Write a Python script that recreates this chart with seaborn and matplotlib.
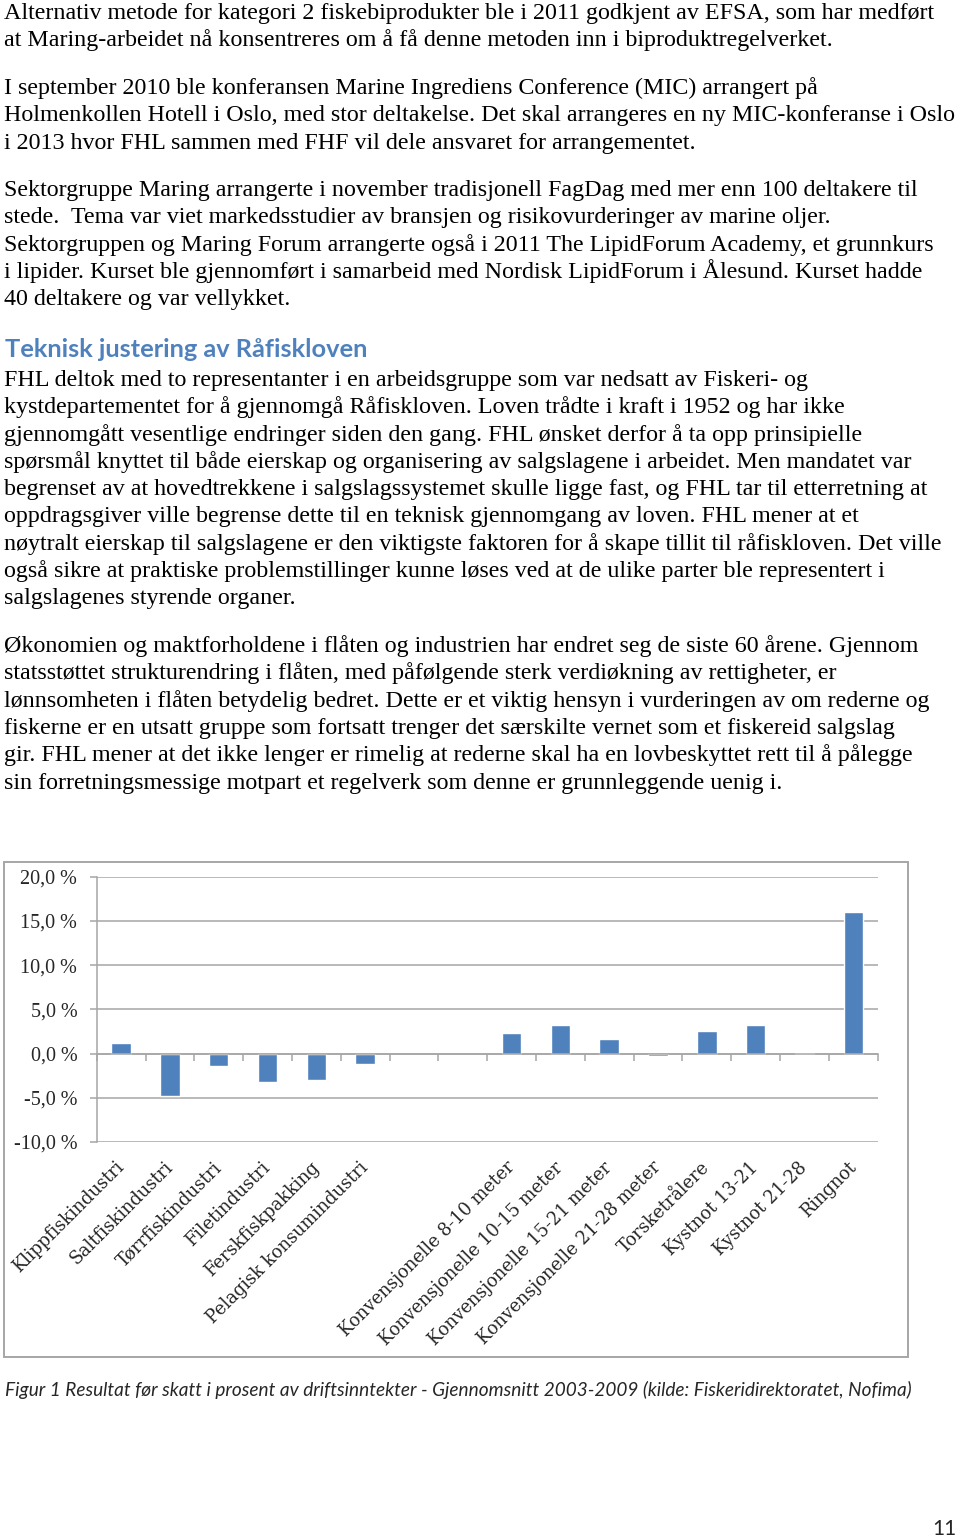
import matplotlib
matplotlib.use('Agg')
import pandas as pd
import seaborn as sns
from matplotlib import pyplot as plt
from matplotlib.patches import Rectangle

# chart data (percent)
kategorier = ['Klippfiskindustri', 'Saltfiskindustri', 'Tørrfiskindustri', 'Filetindustri',
              'Ferskfiskpakking', 'Pelagisk konsumindustri', ' ', '  ',
              'Konvensjonelle 8-10 meter', 'Konvensjonelle 10-15 meter',
              'Konvensjonelle 15-21 meter', 'Konvensjonelle 21-28 meter',
              'Torsketrålere', 'Kystnot 13-21', 'Kystnot 21-28', 'Ringnot']
resultat = [1.2, -4.8, -1.4, -3.2, -3.0, -1.2, None, None,
            2.3, 3.2, 1.7, -0.3, 2.6, 3.2, 0.1, 16.0]
yticks = [-10, -5, 0, 5, 10, 15, 20]
ytick_labels = ['-10,0 %', '-5,0 %', '0,0 %', '5,0 %', '10,0 %', '15,0 %', '20,0 %']

# page text
avsnitt1 = ['Alternativ metode for kategori 2 fiskebiprodukter ble i 2011 godkjent av EFSA, som har medført',
            'at Maring-arbeidet nå konsentreres om å få denne metoden inn i biproduktregelverket.']
avsnitt2 = ['I september 2010 ble konferansen Marine Ingrediens Conference (MIC) arrangert på',
            'Holmenkollen Hotell i Oslo, med stor deltakelse. Det skal arrangeres en ny MIC-konferanse i Oslo',
            'i 2013 hvor FHL sammen med FHF vil dele ansvaret for arrangementet.']
avsnitt3 = ['Sektorgruppe Maring arrangerte i november tradisjonell FagDag med mer enn 100 deltakere til',
            'stede.  Tema var viet markedsstudier av bransjen og risikovurderinger av marine oljer.',
            'Sektorgruppen og Maring Forum arrangerte også i 2011 The LipidForum Academy, et grunnkurs',
            'i lipider. Kurset ble gjennomført i samarbeid med Nordisk LipidForum i Ålesund. Kurset hadde',
            '40 deltakere og var vellykket.']
overskrift = 'Teknisk justering av Råfiskloven'
avsnitt4 = ['FHL deltok med to representanter i en arbeidsgruppe som var nedsatt av Fiskeri- og',
            'kystdepartementet for å gjennomgå Råfiskloven. Loven trådte i kraft i 1952 og har ikke',
            'gjennomgått vesentlige endringer siden den gang. FHL ønsket derfor å ta opp prinsipielle',
            'spørsmål knyttet til både eierskap og organisering av salgslagene i arbeidet. Men mandatet var',
            'begrenset av at hovedtrekkene i salgslagssystemet skulle ligge fast, og FHL tar til etterretning at',
            'oppdragsgiver ville begrense dette til en teknisk gjennomgang av loven. FHL mener at et',
            'nøytralt eierskap til salgslagene er den viktigste faktoren for å skape tillit til råfiskloven. Det ville',
            'også sikre at praktiske problemstillinger kunne løses ved at de ulike parter ble representert i',
            'salgslagenes styrende organer.']
avsnitt5 = ['Økonomien og maktforholdene i flåten og industrien har endret seg de siste 60 årene. Gjennom',
            'statsstøttet strukturendring i flåten, med påfølgende sterk verdiøkning av rettigheter, er',
            'lønnsomheten i flåten betydelig bedret. Dette er et viktig hensyn i vurderingen av om rederne og',
            'fiskerne er en utsatt gruppe som fortsatt trenger det særskilte vernet som et fiskereid salgslag',
            'gir. FHL mener at det ikke lenger er rimelig at rederne skal ha en lovbeskyttet rett til å pålegge',
            'sin forretningsmessige motpart et regelverk som denne er grunnleggende uenig i.']
figurtekst = ('Figur 1 Resultat før skatt i prosent av driftsinntekter - Gjennomsnitt 2003-2009 '
              '(kilde: Fiskeridirektoratet, Nofima)')

W, H = 960, 1538
SERIF = ['Liberation Serif', 'DejaVu Serif']
LABELSERIF = ['DejaVu Serif']
SANS = ['Lato', 'DejaVu Sans']
GRID = '#a6a6a6'
BLUE = '#4f81bd'

sns.set_style('white')
plt.rcParams['font.family'] = SERIF

fig = plt.figure(figsize=(W / 100, H / 100), dpi=100)
renderer = fig.canvas.get_renderer()


def fx(x):
    return x / W


def fy(y):
    return 1 - y / H


def text_width(text, size, **kw):
    t = fig.text(0, 0, text, fontsize=size, **kw)
    w = t.get_window_extent(renderer=renderer).width
    t.remove()
    return w


def fit_size(text, width_px, base=12, **kw):
    return base * width_px / text_width(text, base, **kw)


alle_linjer = avsnitt1 + avsnitt2 + avsnitt3 + avsnitt4 + avsnitt5
body_size = min(fit_size(line, 948, family=SERIF) for line in alle_linjer)


def paragraph(lines, y0, step=27.3):
    for i, line in enumerate(lines):
        fig.text(fx(4), fy(y0 + i * step), line, family=SERIF, fontsize=body_size,
                 va='baseline', ha='left', color='black')


paragraph(avsnitt1, 19)
paragraph(avsnitt2, 94)
paragraph(avsnitt3, 196)
head_size = fit_size(overskrift, 360, family=SANS, weight='bold')
fig.text(fx(5), fy(357), overskrift, family=SANS, weight='bold', fontsize=head_size,
         color=BLUE, va='baseline')
paragraph(avsnitt4, 386)
paragraph(avsnitt5, 652)

# chart frame
fig.patches.append(Rectangle((fx(4), fy(1357)), fx(904), (1357 - 862) / H,
                             transform=fig.transFigure, fill=False,
                             edgecolor=GRID, linewidth=1.4))

# chart
df = pd.DataFrame({'kategori': kategorier, 'resultat': resultat})
ax = fig.add_axes([fx(96.7), fy(1142), fx(877.7 - 96.7), (1142 - 876.7) / H])
sns.barplot(data=df, x='kategori', y='resultat', order=kategorier, color=BLUE,
            saturation=1, width=0.4, errorbar=None, ax=ax)
ax.set_ylim(-10, 20)
ax.set_xlim(-0.5, len(kategorier) - 0.5)
ax.set_yticks(yticks)
ax.set_yticklabels(ytick_labels, fontsize=14.5, family=SERIF)
ax.yaxis.grid(True, color=GRID, linewidth=1.1)
ax.set_axisbelow(True)
ax.set_xlabel('')
ax.set_ylabel('')
for s in ['top', 'right']:
    ax.spines[s].set_visible(False)
ax.spines['left'].set_color(GRID)
ax.spines['left'].set_linewidth(1.1)
ax.spines['bottom'].set_position(('data', 0))
ax.spines['bottom'].set_color(GRID)
ax.spines['bottom'].set_linewidth(1.1)
ax.tick_params(axis='y', which='major', left=True, length=5, width=1.1, color=GRID, pad=9)

ax.set_xticks(range(len(kategorier)))
ax.set_xticklabels(kategorier, rotation=45, ha='right', va='center',
                   rotation_mode='anchor', fontsize=12.8, family=LABELSERIF)
ax.set_xticks([i - 0.5 for i in range(len(kategorier) + 1)], minor=True)
ax.tick_params(axis='x', which='major', bottom=True, length=0, pad=80)
ax.tick_params(axis='x', which='minor', bottom=True, length=5, width=1.1, color=GRID,
               direction='out')

# caption and page number
cap_size = fit_size(figurtekst, 903, family=SANS, style='italic')
fig.text(fx(5), fy(1396), figurtekst, family=SANS, style='italic', fontsize=cap_size,
         va='baseline')
fig.text(fx(957), fy(1535), '11', family=SANS, fontsize=15, ha='right', va='baseline')

fig.savefig('out.png', dpi=100)
